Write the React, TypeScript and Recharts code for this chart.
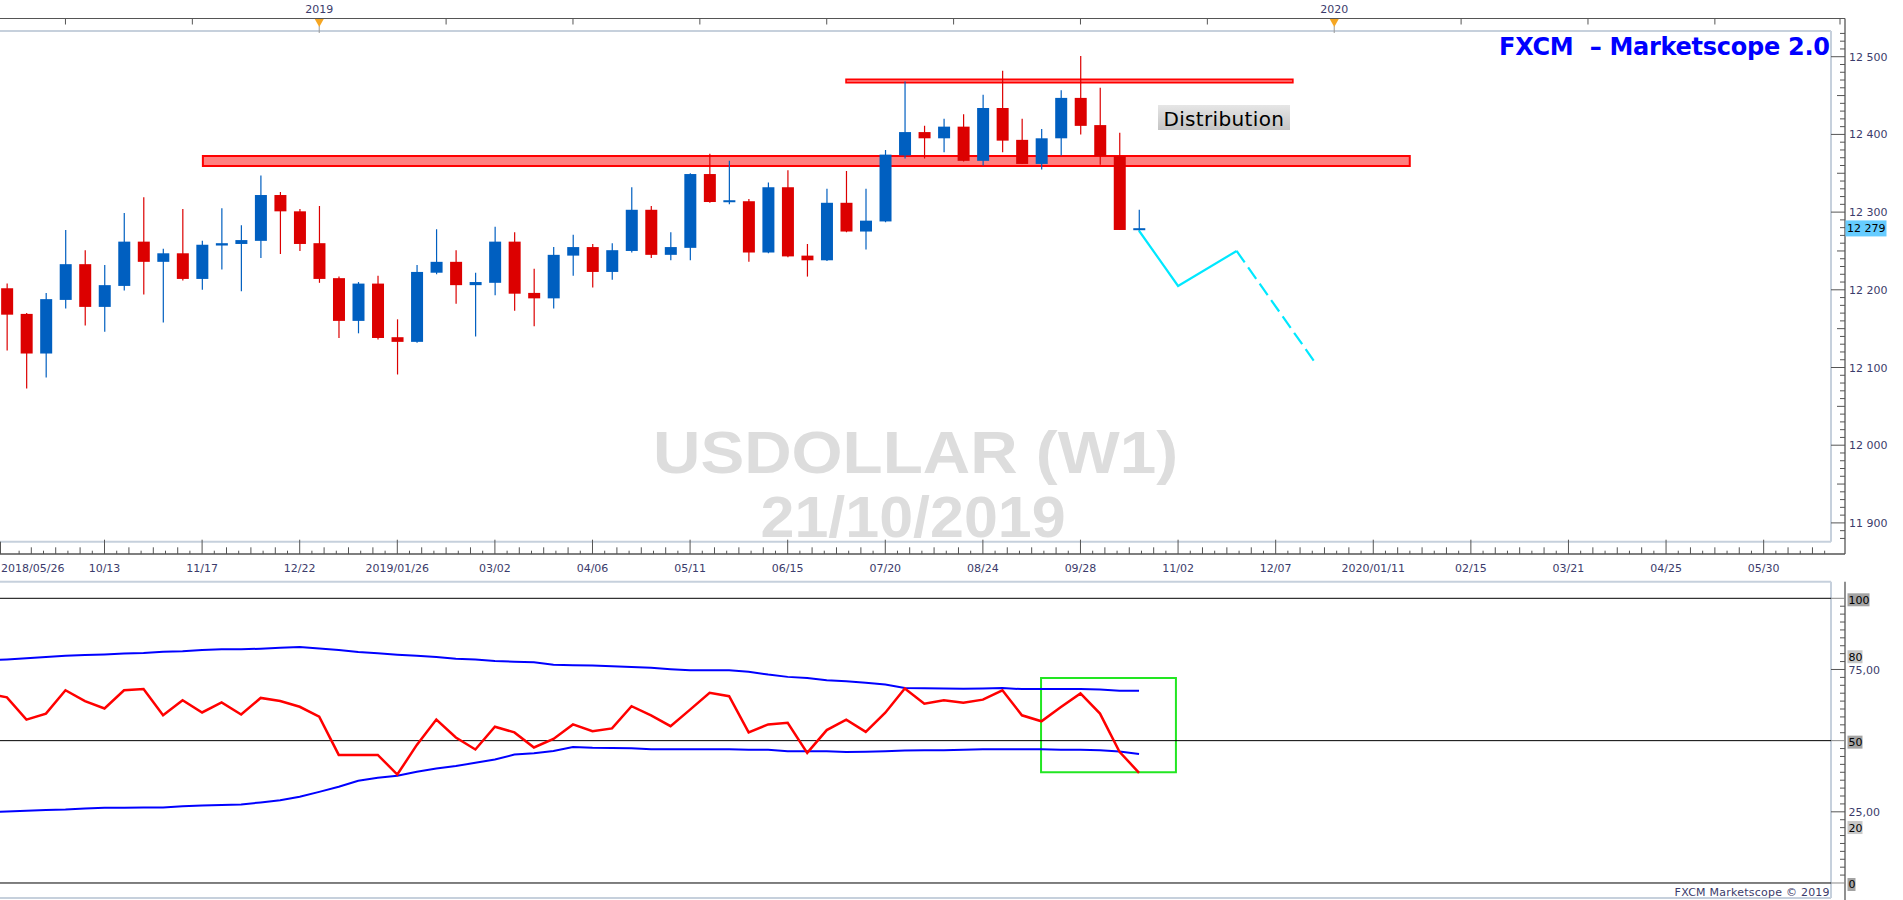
import React from "react";
import {
  ComposedChart,
  LineChart,
  Bar,
  Line,
  XAxis,
  YAxis,
  ReferenceArea,
  ReferenceLine,
} from "recharts";

// weekly candles, week index 0 = 2018/10/13, week 53 = 2019/10/19
const firstWeek = -5;
const opens = [
  12202, 12169, 12118, 12187, 12233, 12178, 12205, 12262, 12236, 12247, 12214, 12257, 12259, 12263, 12322,
  12301, 12260, 12215, 12160, 12208, 12139, 12133, 12222, 12236, 12206, 12209, 12262, 12196, 12189, 12244,
  12255, 12223, 12250, 12303, 12245, 12254, 12349, 12313, 12314, 12248, 12332, 12244, 12238, 12312, 12275,
  12288, 12373, 12403, 12395, 12410, 12366, 12434, 12393, 12362, 12395, 12447, 12412, 12372, 12277,
];
const highs = [
  12208, 12170, 12196, 12277, 12251, 12232, 12299, 12319, 12253, 12304, 12263, 12305, 12283, 12347, 12326,
  12304, 12308, 12217, 12210, 12218, 12162, 12232, 12278, 12251, 12222, 12281, 12274, 12227, 12255, 12271,
  12259, 12260, 12332, 12308, 12274, 12350, 12375, 12366, 12317, 12338, 12354, 12259, 12330, 12353, 12330,
  12380, 12468, 12411, 12420, 12426, 12451, 12482, 12420, 12407, 12457, 12501, 12460, 12402, 12303,
];
const lows = [
  12122, 12073, 12087, 12176, 12154, 12146, 12199, 12194, 12158, 12212, 12200, 12226, 12198, 12241, 12246,
  12250, 12209, 12138, 12144, 12136, 12091, 12132, 12220, 12182, 12140, 12193, 12173, 12153, 12176, 12218,
  12203, 12213, 12248, 12241, 12238, 12238, 12312, 12310, 12236, 12247, 12242, 12217, 12237, 12274, 12252,
  12287, 12369, 12369, 12377, 12365, 12360, 12377, 12362, 12355, 12373, 12400, 12361, 12277, 12275,
];
const closes = [
  12168, 12118, 12188, 12233, 12178, 12206, 12262, 12236, 12247, 12214, 12258, 12260, 12264, 12322, 12301,
  12259, 12214, 12160, 12208, 12138, 12133, 12223, 12236, 12206, 12210, 12262, 12195, 12189, 12245, 12255,
  12223, 12251, 12303, 12245, 12255, 12349, 12313, 12315, 12248, 12332, 12243, 12238, 12312, 12275, 12289,
  12374, 12403, 12395, 12410, 12366, 12434, 12392, 12362, 12395, 12447, 12411, 12372, 12277, 12279,
];

// hand-drawn projection (cyan), solid then dashed from the third point
const projWeeks = [53, 55, 58, 62];
const projPrices = [12276, 12205, 12250, 12107];

// oscillator panel, first value is the week before the first visible candle
const oscFirstWeek = -6;
const rsi = [
  66.5, 65.2, 57.4, 59.5, 67.7, 63.9, 61.3, 67.7, 68.1, 58.9, 64.2, 59.9, 63.4, 59.2, 65.0, 63.9, 61.9, 58.4,
  45.0, 45.0, 45.0, 38.1, 48.5, 57.4, 51.1, 46.9, 54.9, 52.9, 47.6, 50.6, 55.7, 53.3, 54.3, 62.1, 58.9, 55.1,
  60.9, 66.8, 65.6, 52.9, 55.7, 56.3, 45.7, 53.7, 57.4, 53.1, 59.8, 68.3, 63.0, 64.2, 63.3, 64.4, 67.7, 58.9,
  56.8, 61.8, 66.6, 59.5, 46.1, 38.7,
];
const bandUpper = [
  78.2, 78.5, 78.9, 79.4, 79.8, 80.1, 80.3, 80.6, 80.8, 81.2, 81.4, 81.8, 82.1, 82.1, 82.3, 82.6, 82.9, 82.4,
  81.8, 81.1, 80.7, 80.2, 79.8, 79.4, 78.8, 78.5, 78.0, 77.7, 77.5, 76.7, 76.5, 76.4, 76.1, 75.9, 75.6, 75.1,
  74.7, 74.7, 74.7, 74.2, 73.2, 72.4, 72.0, 71.2, 70.9, 70.3, 69.7, 68.5, 68.4, 68.3, 68.2, 68.3, 68.5, 68.1,
  68.1, 68.1, 68.1, 68.0, 67.5, 67.5,
];
const bandLower = [
  24.9, 25.1, 25.4, 25.6, 25.8, 26.2, 26.4, 26.4, 26.5, 26.5, 27.0, 27.2, 27.4, 27.6, 28.3, 29.1, 30.3, 32.0,
  33.8, 35.9, 37.0, 37.7, 39.1, 40.2, 41.1, 42.2, 43.4, 45.1, 45.6, 46.4, 47.8, 47.5, 47.4, 47.3, 47.0, 47.0,
  47.0, 47.0, 47.0, 46.8, 46.8, 46.3, 46.3, 46.3, 46.0, 46.1, 46.3, 46.5, 46.6, 46.6, 46.8, 47.0, 47.0, 47.0,
  47.0, 46.8, 46.8, 46.6, 46.2, 45.3,
];

const edgeDateLabel = "2018/05/26";
const dateLabels = [
  "10/13", "11/17", "12/22", "2019/01/26", "03/02", "04/06", "05/11", "06/15", "07/20",
  "08/24", "09/28", "11/02", "12/07", "2020/01/11", "02/15", "03/21", "04/25", "05/30",
];
const yearWeeks = [11, 63];
const yearLabels = ["2019", "2020"];

// layout
const W = 1903;
const PLOT_R = 1831;
const AXIS_X = 1845;
const STRIP_Y = 18.5;
const PLOT_T = 31;
const PLOT_B = 541.7;
const DATE_Y = 554;
const LOW_T = 581.7;
const LOW_B = 898;
const X_MIN = -5.354;
const X_MAX = 88.45;
const Y_MIN = 11875.8;
const Y_MAX = 12533.1;
const R_MIN = -5.27;
const R_MAX = 105.83;

const BLUE = "#005fc0";
const RED = "#dc0000";
const NAVY = "#3b3b6b";
const FRAME = "#c6d0dc";
const FONT = "'DejaVu Sans', Verdana, sans-serif";

const lastPrice = closes[closes.length - 1];

const rowsByWeek = new Map<number, any>();
opens.forEach((o, i) => {
  const w = firstWeek + i;
  rowsByWeek.set(w, { w, o, h: highs[i], l: lows[i], c: closes[i] });
});
projWeeks.forEach((w, i) => {
  const row = rowsByWeek.get(w) ?? { w };
  if (i <= 2) row.projA = projPrices[i];
  if (i >= 2) row.projB = projPrices[i];
  rowsByWeek.set(w, row);
});
const mainRows = [...rowsByWeek.values()].sort((a, b) => a.w - b.w);

const oscRows = rsi.map((v, i) => ({ w: oscFirstWeek + i, rsi: v, up: bandUpper[i], lo: bandLower[i] }));

// axis tick positions
const stripTicks: number[] = [];
for (let n = 0; n <= 13; n++) stripTicks.push(-2 + 6.5 * n);

const dateTicks: number[] = [X_MIN];
for (let n = -1; n <= 17; n++) {
  for (let m = 0; m < 8; m++) {
    const w = 5 * n + 0.625 * m;
    if (n === -1 && m === 0) continue;
    if (w > X_MIN && w < X_MAX) dateTicks.push(w);
  }
}

const priceTicks: number[] = [];
for (let v = 11880; v <= 12530; v += 10) priceTicks.push(v);
priceTicks.push(lastPrice);

const oscTicks: number[] = [];
for (let i = 0; i <= 36; i++) oscTicks.push(Math.round((i * 25) / 9 * 10000) / 10000);
oscTicks.push(80, 20);

const fmtPrice = (v: number) => `${Math.floor(v / 1000)} ${String(v % 1000).padStart(3, "0")}`;

function Candle(props: any) {
  const { x, y, width, height, payload } = props;
  if (!payload || payload.o == null || !isFinite(y) || !isFinite(height)) return <g />;
  const { o, h, l, c } = payload;
  const top = Math.min(y, y + height);
  const span = Math.abs(height);
  const k = h > l ? span / (h - l) : 0;
  const yOf = (v: number) => top + (h - v) * k;
  const cx = x + width / 2;
  const color = c >= o ? BLUE : RED;
  let bTop = yOf(Math.max(o, c));
  let bH = yOf(Math.min(o, c)) - bTop;
  if (bH < 2) {
    bTop -= (2 - bH) / 2;
    bH = 2;
  }
  return (
    <g>
      <line x1={cx} x2={cx} y1={top} y2={top + span} stroke={color} strokeWidth={1.2} />
      <rect x={x} y={bTop} width={width} height={bH} fill={color} />
    </g>
  );
}

function StripTick(props: any) {
  const { x, payload } = props;
  const idx = yearWeeks.indexOf(payload.value);
  return (
    <g>
      <line x1={x} x2={x} y1={STRIP_Y} y2={STRIP_Y + 6} stroke="#555" />
      {idx >= 0 && (
        <g>
          <text x={x} y={13.3} textAnchor="middle" fontSize={11} fill={NAVY} fontFamily={FONT}>
            {yearLabels[idx]}
          </text>
          <line x1={x} x2={x} y1={26} y2={33} stroke="#9a9a9a" />
          <path d={`M${x - 4.5},19 L${x + 4.5},19 L${x},27 Z`} fill="#f5a623" />
        </g>
      )}
    </g>
  );
}

function DateTick(props: any) {
  const { x, payload } = props;
  const w = payload.value;
  if (w === X_MIN) {
    return (
      <g>
        <line x1={0.5} x2={0.5} y1={PLOT_B} y2={DATE_Y} stroke="#555" />
        <text x={1} y={572} fontSize={11} fill={NAVY} fontFamily={FONT}>
          {edgeDateLabel}
        </text>
      </g>
    );
  }
  const block = Math.floor(w / 5);
  const step = Math.round((w - block * 5) / 0.625);
  if (step === 0) {
    return (
      <g>
        <line x1={x} x2={x} y1={PLOT_B - 2} y2={DATE_Y} stroke="#555" />
        <text x={x} y={572} textAnchor="middle" fontSize={11} fill={NAVY} fontFamily={FONT}>
          {dateLabels[block]}
        </text>
      </g>
    );
  }
  const len = step % 2 === 0 ? 6.7 : 3.3;
  return <line x1={x} x2={x} y1={DATE_Y - len} y2={DATE_Y} stroke="#555" />;
}

function PriceTick(props: any) {
  const { y, payload } = props;
  const v = payload.value;
  if (v === lastPrice) {
    return (
      <g>
        <rect x={AXIS_X + 0.5} y={y - 8} width={41} height={16} fill="#66ccff" />
        <text x={AXIS_X + 2} y={y + 4} fontSize={11} fill="#000" fontFamily={FONT}>
          {fmtPrice(v)}
        </text>
      </g>
    );
  }
  if (v % 100 === 0) {
    return (
      <g>
        <line x1={PLOT_R} x2={AXIS_X} y1={y} y2={y} stroke="#555" />
        <text x={1849} y={y + 4} fontSize={11} fill={NAVY} fontFamily={FONT}>
          {fmtPrice(v)}
        </text>
      </g>
    );
  }
  const len = v % 50 === 0 ? 8 : 5;
  return <line x1={AXIS_X - len} x2={AXIS_X} y1={y} y2={y} stroke="#555" />;
}

const near = (a: number, b: number) => Math.abs(a - b) < 0.01;

function OscTick(props: any) {
  const { y, payload } = props;
  const v = payload.value;
  const boxed = (label: string, fill: string, w: number) => (
    <g>
      <rect x={1847.5} y={y - 5} width={w} height={13} fill={fill} />
      <text x={1848.5} y={y + 5.5} fontSize={11} fill="#000" fontFamily={FONT}>
        {label}
      </text>
    </g>
  );
  if (near(v, 80) && props.index > 36) return boxed("80", "#c8c8c8", 15);
  if (near(v, 20) && props.index > 36) return boxed("20", "#c8c8c8", 15);
  if (near(v, 100) || near(v, 50) || near(v, 0)) {
    const label = String(Math.round(v));
    return (
      <g>
        <line x1={PLOT_R} x2={AXIS_X} y1={y} y2={y} stroke="#888" />
        {boxed(label, "#a3a3a3", label.length * 7 + 1)}
      </g>
    );
  }
  if (near(v, 75) || near(v, 25)) {
    return (
      <g>
        <line x1={PLOT_R} x2={AXIS_X} y1={y} y2={y} stroke="#555" />
        <text x={1848.5} y={y + 4.5} fontSize={11} fill={NAVY} fontFamily={FONT}>
          {near(v, 75) ? "75,00" : "25,00"}
        </text>
      </g>
    );
  }
  return <line x1={AXIS_X - 5} x2={AXIS_X} y1={y} y2={y} stroke="#555" />;
}

export default function App() {
  return (
    <div
      style={{
        position: "absolute",
        left: 0,
        top: 0,
        width: W,
        height: 900,
        background: "#fff",
        overflow: "hidden",
      }}
    >
      <svg width={W} height={900} style={{ position: "absolute", left: 0, top: 0 }}>
        <defs>
          <linearGradient id="distGrad" x1="0" y1="0" x2="0" y2="1">
            <stop offset="0" stopColor="#e6e6e6" />
            <stop offset="1" stopColor="#c4c4c4" />
          </linearGradient>
        </defs>
        <text
          x={653}
          y={472.5}
          fontFamily="'Liberation Sans', Arial, sans-serif"
          fontWeight="bold"
          fontSize={60}
          fill="#dddddd"
          textLength={525}
          lengthAdjust="spacingAndGlyphs"
        >
          USDOLLAR (W1)
        </text>
        <text
          x={760.6}
          y={537}
          fontFamily="'Liberation Sans', Arial, sans-serif"
          fontWeight="bold"
          fontSize={58}
          fill="#dddddd"
          textLength={305}
          lengthAdjust="spacingAndGlyphs"
        >
          21/10/2019
        </text>

        <line x1={0} x2={AXIS_X} y1={STRIP_Y} y2={STRIP_Y} stroke="#555" />
        <line x1={1840} x2={1840} y1={STRIP_Y} y2={STRIP_Y + 6} stroke="#555" />
        <line x1={0} x2={PLOT_R} y1={PLOT_T} y2={PLOT_T} stroke={FRAME} strokeWidth={2} />
        <line x1={PLOT_R} x2={PLOT_R} y1={PLOT_T} y2={PLOT_B} stroke={FRAME} strokeWidth={2} />
        <line x1={0} x2={PLOT_R} y1={PLOT_B} y2={PLOT_B} stroke={FRAME} strokeWidth={2} />
        <line x1={AXIS_X} x2={AXIS_X} y1={STRIP_Y} y2={DATE_Y} stroke="#555" strokeWidth={1.3} />
        <line x1={0} x2={AXIS_X} y1={DATE_Y} y2={DATE_Y} stroke="#555" strokeWidth={1.5} />

        <line x1={0} x2={PLOT_R} y1={LOW_T} y2={LOW_T} stroke={FRAME} strokeWidth={2} />
        <line x1={PLOT_R} x2={PLOT_R} y1={LOW_T} y2={LOW_B} stroke={FRAME} strokeWidth={2} />
        <line x1={0} x2={PLOT_R} y1={LOW_B} y2={LOW_B} stroke={FRAME} strokeWidth={2} />
        <line x1={AXIS_X} x2={AXIS_X} y1={LOW_T} y2={900} stroke="#555" strokeWidth={1.3} />

        <text
          x={1499}
          y={55}
          fontFamily={FONT}
          fontWeight="bold"
          fontSize={24}
          fill="#0000ff"
          textLength={331}
          style={{ whiteSpace: "pre" }}
        >
          {"FXCM  – Marketscope 2.0"}
        </text>

        <rect x={1158} y={105} width={132} height={25} fill="url(#distGrad)" />
        <text x={1163.4} y={126} fontFamily={FONT} fontSize={20} fill="#000" textLength={120.6}>
          Distribution
        </text>

        <text x={1674.6} y={896} fontFamily={FONT} fontSize={11} fill={NAVY} textLength={155}>
          FXCM Marketscope © 2019
        </text>
      </svg>

      <div style={{ position: "absolute", left: 0, top: 0 }}>
        <ComposedChart width={W} height={580} data={mainRows} margin={{ top: 0, right: 0, bottom: 0, left: 0 }}>
          <XAxis
            xAxisId="top"
            orientation="top"
            type="number"
            dataKey="w"
            domain={[X_MIN, X_MAX]}
            allowDataOverflow
            height={31}
            ticks={stripTicks}
            interval={0}
            tick={StripTick}
            axisLine={false}
            tickLine={false}
          />
          <XAxis
            xAxisId="n"
            type="number"
            dataKey="w"
            domain={[X_MIN, X_MAX]}
            allowDataOverflow
            height={38.3}
            ticks={dateTicks}
            interval={0}
            tick={DateTick}
            axisLine={false}
            tickLine={false}
          />
          <YAxis
            orientation="right"
            width={72}
            domain={[Y_MIN, Y_MAX]}
            allowDataOverflow
            ticks={priceTicks}
            interval={0}
            tick={PriceTick}
            axisLine={false}
            tickLine={false}
          />
          <ReferenceArea
            xAxisId="n"
            x1={5.04}
            x2={66.87}
            y1={12359.5}
            y2={12372.3}
            fill="#ff8080"
            fillOpacity={1}
            stroke="#ff0000"
            strokeWidth={2}
          />
          <ReferenceArea
            xAxisId="n"
            x1={37.99}
            x2={60.88}
            y1={12466.6}
            y2={12470.9}
            fill="#ff8080"
            fillOpacity={1}
            stroke="#ff0000"
            strokeWidth={1.6}
          />
          <Bar
            xAxisId="n"
            dataKey={(d: any) => (d.o == null ? null : [d.l, d.h])}
            barSize={12}
            shape={<Candle />}
            isAnimationActive={false}
          />
          <Line
            xAxisId="n"
            dataKey="projA"
            stroke="#00e8ff"
            strokeWidth={2.2}
            dot={false}
            connectNulls
            isAnimationActive={false}
          />
          <Line
            xAxisId="n"
            dataKey="projB"
            stroke="#00e8ff"
            strokeWidth={2.2}
            strokeDasharray="14 6"
            dot={false}
            connectNulls
            isAnimationActive={false}
          />
        </ComposedChart>
      </div>

      <div style={{ position: "absolute", left: 0, top: 560 }}>
        <LineChart width={W} height={340} data={oscRows} margin={{ top: LOW_T - 560, right: 0, bottom: 900 - LOW_B, left: 0 }}>
          <XAxis type="number" dataKey="w" domain={[X_MIN, X_MAX]} allowDataOverflow hide />
          <YAxis
            orientation="right"
            width={72}
            domain={[R_MIN, R_MAX]}
            allowDataOverflow
            ticks={oscTicks}
            interval={0}
            tick={OscTick}
            axisLine={false}
            tickLine={false}
          />
          <ReferenceLine y={100} stroke="#000" />
          <ReferenceLine y={50} stroke="#000" />
          <ReferenceLine y={0} stroke="#000" />
          <Line dataKey="up" stroke="#0000ff" strokeWidth={2} dot={false} isAnimationActive={false} />
          <Line dataKey="lo" stroke="#0000ff" strokeWidth={2} dot={false} isAnimationActive={false} />
          <Line dataKey="rsi" stroke="#ff0000" strokeWidth={2.5} dot={false} isAnimationActive={false} />
          <ReferenceArea
            x1={47.98}
            x2={54.89}
            y1={38.9}
            y2={72}
            fill="none"
            fillOpacity={0}
            stroke="#22e622"
            strokeWidth={2}
          />
        </LineChart>
      </div>
    </div>
  );
}
